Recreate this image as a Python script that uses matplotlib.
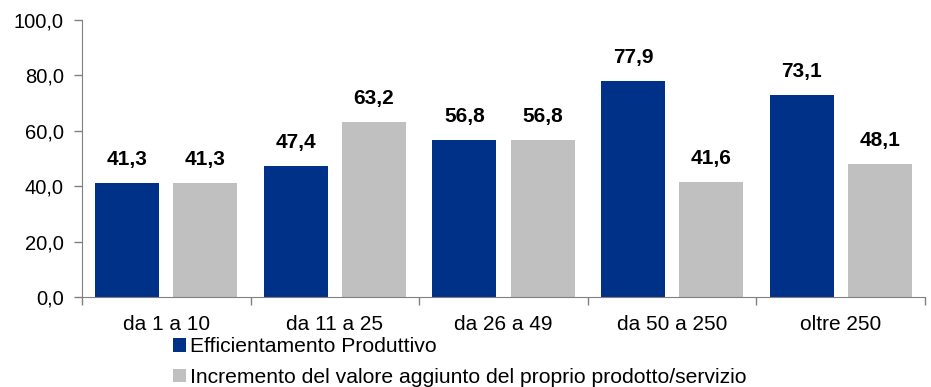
import matplotlib.pyplot as plt
import numpy as np
from matplotlib.patches import Patch
from matplotlib.ticker import FuncFormatter


# classi di addetti e percentuali per tipo di innovazione
classi = ["da 1 a 10", "da 11 a 25", "da 26 a 49", "da 50 a 250", "oltre 250"]
efficientamento = [41.3, 47.4, 56.8, 77.9, 73.1]
incremento_valore = [41.3, 63.2, 56.8, 41.6, 48.1]

etichetta_eff = "Efficientamento Produttivo"
etichetta_inc = "Incremento del valore aggiunto del proprio prodotto/servizio"

blu = "#003189"
grigio = "#C0C0C0"
grigio_assi = "#808080"

plt.rcParams["font.family"] = ["Liberation Sans", "DejaVu Sans"]

fig = plt.figure(figsize=(9.31, 3.87), dpi=100)
ax = fig.add_axes([0.088, 0.2326, 0.9056, 0.7157])

x = np.arange(len(classi))
larghezza = 0.38
scarto = 0.232

barre_eff = ax.bar(x - scarto, efficientamento, larghezza, color=blu)
barre_inc = ax.bar(x + scarto, incremento_valore, larghezza, color=grigio)


def virgola(v, _=None):
    return f"{v:.1f}".replace(".", ",")


for barre in (barre_eff, barre_inc):
    ax.bar_label(
        barre,
        labels=[virgola(b.get_height()) for b in barre],
        padding=10,
        fontsize=15,
        fontweight="bold",
    )

ax.set_xlim(-0.5, len(classi) - 0.5)
ax.set_ylim(0, 100)
ax.set_yticks(np.arange(0, 101, 20))
ax.yaxis.set_major_formatter(FuncFormatter(virgola))

# tacche sui confini tra le classi, etichette al centro
ax.set_xticks(np.arange(-0.5, len(classi), 1.0))
ax.set_xticklabels([])
ax.set_xticks(x, minor=True)
ax.set_xticklabels(classi, minor=True)
ax.tick_params(axis="x", which="minor", length=0, pad=13, labelsize=15)
ax.tick_params(axis="x", which="major", length=6, width=1, color=grigio_assi)
ax.tick_params(axis="y", length=6, width=1, color=grigio_assi, labelsize=14.5, pad=7)

for lato in ("top", "right"):
    ax.spines[lato].set_visible(False)
for lato in ("left", "bottom"):
    ax.spines[lato].set_color(grigio_assi)

fig.legend(
    handles=[
        Patch(facecolor=blu, label=etichetta_eff),
        Patch(facecolor=grigio, label=etichetta_inc),
    ],
    loc="upper left",
    bbox_to_anchor=(0.186, 0.128),
    ncol=1,
    frameon=False,
    fontsize=15.2,
    handlelength=0.6,
    handleheight=0.6,
    handletextpad=0.2,
    labelspacing=0.55,
    borderpad=0,
    borderaxespad=0,
)

fig.savefig("out.png", dpi=100)
plt.close(fig)
